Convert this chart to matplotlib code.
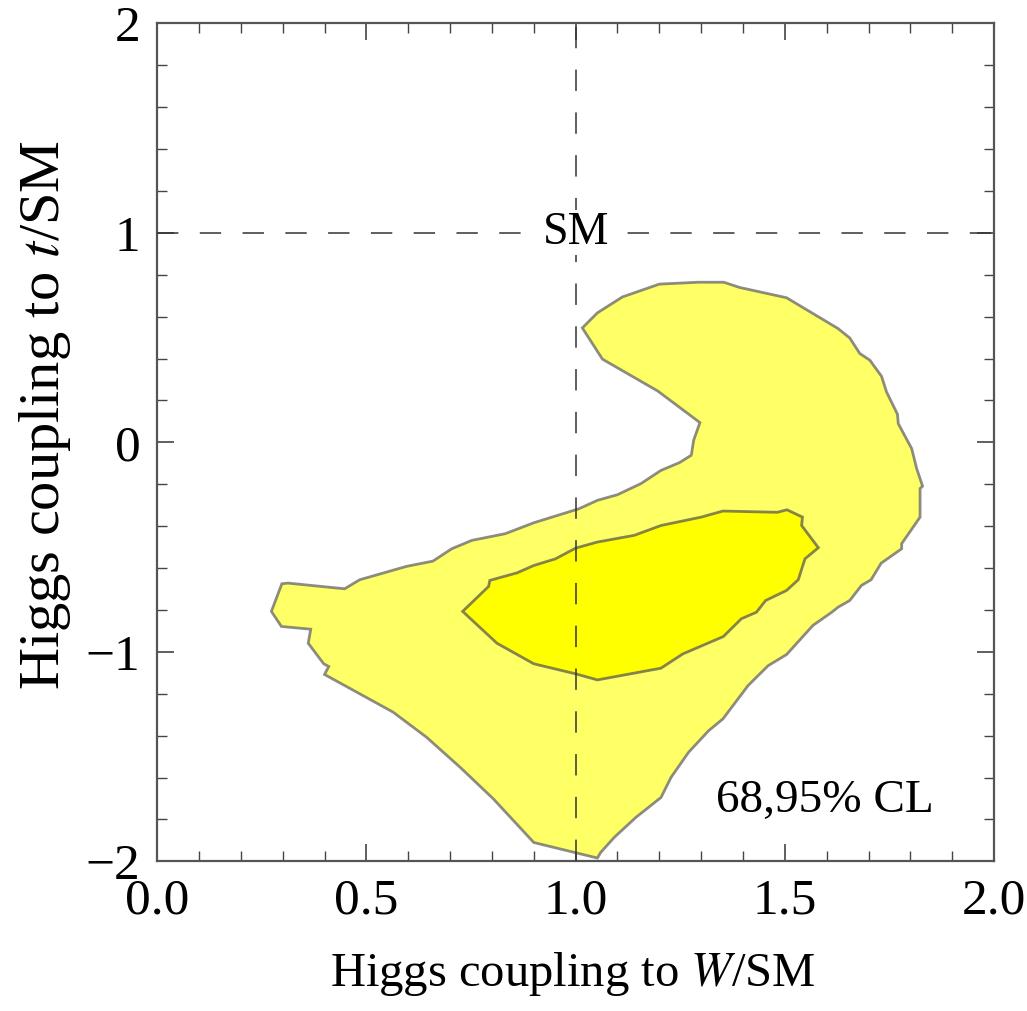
import matplotlib
matplotlib.use("Agg")
import matplotlib.pyplot as plt
from matplotlib.patches import Polygon
from matplotlib.ticker import MultipleLocator

plt.rcParams['font.family'] = ['Liberation Serif', 'DejaVu Serif']
plt.rcParams['mathtext.fontset'] = 'stix'

# 95% CL region (W coupling, top coupling)
cl95_w = [1.016, 1.052, 1.112, 1.200, 1.292, 1.354, 1.392, 1.504, 1.627, 1.655,
          1.679, 1.703, 1.731, 1.743, 1.769, 1.771, 1.803, 1.815, 1.829, 1.823,
          1.823, 1.779, 1.779, 1.730, 1.706, 1.683, 1.655, 1.627, 1.612, 1.567,
          1.504, 1.460, 1.412, 1.352, 1.318, 1.270, 1.228, 1.204, 1.144, 1.092,
          1.060, 1.052, 0.900, 0.804, 0.724, 0.644, 0.564, 0.400, 0.410, 0.398,
          0.361, 0.367, 0.297, 0.273, 0.298, 0.313, 0.448, 0.484, 0.596, 0.659,
          0.704, 0.752, 0.832, 0.900, 1.008, 1.052, 1.100, 1.156, 1.204, 1.248,
          1.276, 1.277, 1.282, 1.297, 1.196, 1.064]
cl95_t = [0.546, 0.618, 0.694, 0.755, 0.764, 0.764, 0.739, 0.690, 0.543, 0.498,
          0.424, 0.392, 0.315, 0.240, 0.134, 0.089, -0.030, -0.126, -0.209, -0.221,
          -0.357, -0.484, -0.508, -0.577, -0.656, -0.683, -0.755, -0.787, -0.811, -0.874,
          -1.013, -1.066, -1.161, -1.320, -1.376, -1.479, -1.599, -1.695, -1.790, -1.886,
          -1.957, -1.984, -1.910, -1.703, -1.551, -1.408, -1.288, -1.108, -1.070, -1.057,
          -0.959, -0.892, -0.879, -0.807, -0.675, -0.672, -0.699, -0.656, -0.592, -0.567,
          -0.508, -0.468, -0.436, -0.384, -0.317, -0.277, -0.250, -0.197, -0.134, -0.097,
          -0.062, -0.054, 0.010, 0.094, 0.245, 0.397]

# 68% CL region
cl68_w = [1.352, 1.482, 1.505, 1.542, 1.540, 1.580, 1.548, 1.532, 1.504, 1.454,
          1.432, 1.396, 1.353, 1.256, 1.204, 1.052, 1.000, 0.900, 0.812, 0.730,
          0.792, 0.795, 0.860, 0.900, 0.952, 1.000, 1.052, 1.140, 1.204, 1.300]
cl68_t = [-0.328, -0.334, -0.322, -0.357, -0.397, -0.503, -0.556, -0.656, -0.707, -0.755,
          -0.811, -0.842, -0.927, -1.010, -1.078, -1.134, -1.105, -1.057, -0.959, -0.807,
          -0.688, -0.659, -0.623, -0.588, -0.556, -0.505, -0.476, -0.444, -0.397, -0.357]

sm_point = (1.0, 1.0)

fig = plt.figure(figsize=(10.27, 10.11), dpi=100)
ax = fig.add_axes([0.153, 0.148, 0.815, 0.829])

ax.add_patch(Polygon(list(zip(cl95_w, cl95_t)), closed=True, facecolor='#ffff66',
                     edgecolor=(0.4, 0.4, 0.4, 0.75), linewidth=2.0, zorder=2))
ax.add_patch(Polygon(list(zip(cl68_w, cl68_t)), closed=True, facecolor='#ffff00',
                     edgecolor=(0.4, 0.4, 0.3, 0.8), linewidth=2.0, zorder=3))

# SM reference lines
ax.axvline(sm_point[0], color='#333333', lw=1.1, dashes=(14, 14), zorder=4)
ax.axhline(sm_point[1], color='#333333', lw=1.1, dashes=(14, 14), zorder=4)
ax.text(sm_point[0], sm_point[1], 'SM', fontsize=33, ha='center', va='center',
        bbox=dict(facecolor='white', edgecolor='none', pad=1), zorder=5)

ax.text(1.856, -1.71, '68,95% CL', fontsize=34, ha='right', va='center')

ax.set_xlim(0, 2)
ax.set_ylim(-2, 2)
ax.xaxis.set_major_locator(MultipleLocator(0.5))
ax.xaxis.set_minor_locator(MultipleLocator(0.1))
ax.yaxis.set_major_locator(MultipleLocator(1))
ax.yaxis.set_minor_locator(MultipleLocator(0.2))
ax.xaxis.set_major_formatter(plt.FuncFormatter(lambda v, p: f'{v:.1f}'))
ax.yaxis.set_major_formatter(plt.FuncFormatter(lambda v, p: f'{int(round(v))}'.replace('-', '\u2212')))
ax.tick_params(which='both', direction='in', top=True, right=True,
               color='#444444', labelsize=37, pad=12)
ax.tick_params(which='major', length=12, width=1.2)
ax.tick_params(which='minor', length=7, width=1.0)
for s in ax.spines.values():
    s.set_color('#555555')
    s.set_linewidth(1.6)

ax.set_xlabel('Higgs coupling to $W$/SM', fontsize=35, va='center')
ax.set_ylabel('Higgs coupling to $t$/SM', fontsize=42, va='center')
ax.xaxis.set_label_coords(0.497, -0.134)
ax.yaxis.set_label_coords(-0.134, 0.532)

fig.savefig('out.png', dpi=100)
